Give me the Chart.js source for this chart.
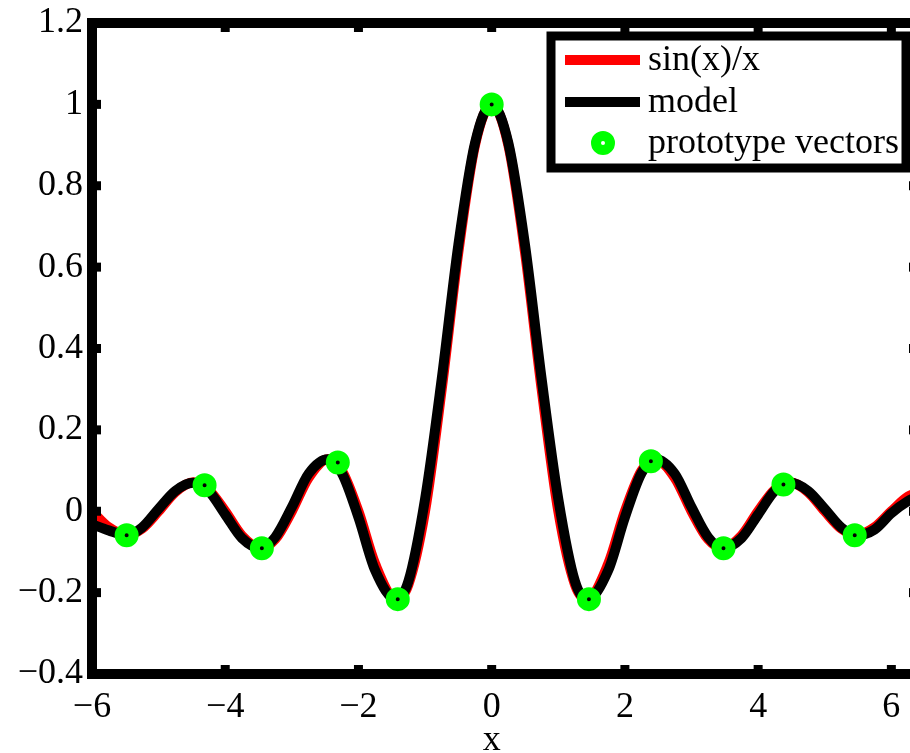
<!DOCTYPE html>
<html>
<head>
<meta charset="utf-8">
<script src="https://cdn.jsdelivr.net/npm/chart.js@4.4.1/dist/chart.umd.min.js"></script>
<style>
  html, body { margin: 0; padding: 0; background: #fff; overflow: hidden; }
  #wrap { width: 940px; height: 753px; }
</style>
</head>
<body>
<div id="wrap"><canvas id="sincChart" width="940" height="753"></canvas></div>
<script>
// sample positions along x (shared by both curves)
const xs = [-6, -5.75, -5.48, -5.25, -5, -4.75, -4.48, -4.25, -4, -3.75, -3.47, -3.25, -3, -2.75, -2.46, -2.25, -2, -1.75, -1.43, -1.25, -1, -0.75, -0.5, -0.25,
            0, 0.25, 0.5, 0.75, 1, 1.25, 1.43, 1.75, 2, 2.25, 2.46, 2.75, 3, 3.25, 3.47, 3.75, 4, 4.25, 4.48, 4.75, 5, 5.25, 5.48, 5.75, 6, 6.25, 6.5];

const sincY = [0, -0.039, -0.058, -0.043, 0, 0.047, 0.071, 0.053, 0, -0.060, -0.091, -0.069, 0, 0.082, 0.128, 0.100, 0, -0.129, -0.217, -0.180, 0, 0.300, 0.637, 0.900,
               1, 0.900, 0.637, 0.300, 0, -0.180, -0.217, -0.129, 0, 0.100, 0.128, 0.082, 0, -0.069, -0.091, -0.060, 0, 0.053, 0.071, 0.047, 0, -0.043, -0.058, -0.039, 0, 0.036, 0.049];

const modelY = [-0.032, -0.047, -0.059, -0.040, 0.006, 0.050, 0.070, 0.050, -0.008, -0.066, -0.091, -0.064, 0.010, 0.092, 0.128, 0.094, -0.015, -0.145, -0.217, -0.172, 0.030, 0.325, 0.655, 0.905,
                1, 0.905, 0.655, 0.325, 0.030, -0.172, -0.217, -0.145, -0.015, 0.094, 0.128, 0.092, 0.010, -0.064, -0.091, -0.066, -0.008, 0.050, 0.070, 0.050, 0.006, -0.040, -0.059, -0.045, -0.005, 0.025, 0.045];

// prototype vectors
const protoX = [-5.48, -4.31, -3.45, -2.31, -1.41, 0, 1.46, 2.39, 3.48, 4.38, 5.45];
const protoY = [-0.059, 0.064, -0.091, 0.120, -0.216, 1.0, -0.216, 0.123, -0.091, 0.066, -0.059];

const xTickValues = [-6, -4, -2, 0, 2, 4, 6];
const yTickValues = [-0.4, -0.2, 0, 0.2, 0.4, 0.6, 0.8, 1, 1.2];

const serif = '"Liberation Serif", "DejaVu Serif", serif';
const fmt = v => String(Math.round(v * 10) / 10).replace('-', '\u2212');

const pts = (xv, yv) => xv.map((x, i) => ({ x: x, y: yv[i] }));

// thick box frame with inward ticks, axis label and a boxed legend in the top-right corner
const framePlugin = {
  id: 'frame',
  afterDatasetsDraw(chart) {
    const { ctx, chartArea: a, scales: { x, y } } = chart;
    ctx.save();
    ctx.strokeStyle = '#000';
    ctx.lineWidth = 10;
    ctx.strokeRect(a.left, a.top, a.right - a.left, a.bottom - a.top);
    ctx.lineWidth = 9;
    ctx.lineCap = 'butt';
    const seg = (x1, y1, x2, y2) => { ctx.beginPath(); ctx.moveTo(x1, y1); ctx.lineTo(x2, y2); ctx.stroke(); };
    x.ticks.forEach(t => {
      const px = x.getPixelForValue(t.value);
      seg(px, a.bottom, px, a.bottom - 9);
      seg(px, a.top, px, a.top + 9);
    });
    y.ticks.forEach(t => {
      const py = y.getPixelForValue(t.value);
      seg(a.left, py, a.left + 9, py);
      seg(a.right, py, a.right - 9, py);
    });
    ctx.fillStyle = '#000';
    ctx.font = '36px ' + serif;
    ctx.textAlign = 'center';
    ctx.textBaseline = 'middle';
    ctx.fillText('x', x.getPixelForValue(0), 741);
    ctx.restore();
  },
  afterDraw(chart) {
    const { ctx } = chart;
    const box = { left: 551, top: 36, right: 906, bottom: 168 };
    ctx.save();
    ctx.fillStyle = '#fff';
    ctx.fillRect(box.left, box.top, box.right - box.left, box.bottom - box.top);
    ctx.strokeStyle = '#000';
    ctx.lineWidth = 9;
    ctx.strokeRect(box.left, box.top, box.right - box.left, box.bottom - box.top);

    const rows = [60, 102, 143];
    ctx.font = '36px ' + serif;
    ctx.textBaseline = 'middle';
    ctx.textAlign = 'left';
    const ds = chart.data.datasets;
    const entries = ['sin(x)/x', 'model', 'prototype vectors'].map(l => ds.find(d => d.label === l));
    entries.forEach((d, i) => {
      const cy = rows[i];
      ctx.strokeStyle = d.borderColor;
      if (d.showLine) {
        ctx.lineWidth = 10;
        ctx.beginPath();
        ctx.moveTo(565, cy);
        ctx.lineTo(640, cy);
        ctx.stroke();
      } else {
        ctx.lineWidth = d.borderWidth;
        ctx.beginPath();
        ctx.arc(603, cy, d.pointRadius, 0, Math.PI * 2);
        ctx.stroke();
      }
      ctx.fillStyle = '#000';
      ctx.fillText(d.label, 648, cy + 1);
    });
    ctx.restore();
  }
};

const ctx = document.getElementById('sincChart').getContext('2d');
new Chart(ctx, {
  type: 'scatter',
  data: {
    datasets: [
      {
        label: 'prototype vectors',
        data: pts(protoX, protoY),
        showLine: false,
        pointStyle: 'circle',
        pointRadius: 7,
        pointHoverRadius: 7,
        borderWidth: 10,
        borderColor: '#00ff00',
        backgroundColor: 'rgba(0,0,0,0)',
        order: 0
      },
      {
        label: 'model',
        data: pts(xs, modelY),
        showLine: true,
        borderColor: '#000',
        borderWidth: 10,
        pointRadius: 0,
        cubicInterpolationMode: 'monotone',
        order: 1
      },
      {
        label: 'sin(x)/x',
        data: pts(xs, sincY),
        showLine: true,
        borderColor: '#ff0000',
        borderWidth: 10,
        pointRadius: 0,
        cubicInterpolationMode: 'monotone',
        order: 2
      }
    ]
  },
  options: {
    responsive: false,
    animation: false,
    layout: { padding: { left: 0, top: 23, right: 22, bottom: 0 } },
    plugins: {
      legend: { display: false },
      tooltip: { enabled: false }
    },
    scales: {
      x: {
        type: 'linear',
        min: -6,
        max: 6.4,
        afterBuildTicks: s => { s.ticks = xTickValues.map(v => ({ value: v })); },
        afterFit: s => { s.height = 79; s.paddingLeft = 0; s.paddingRight = 0; },
        grid: { display: false, drawTicks: false },
        border: { display: false },
        ticks: {
          color: '#000',
          padding: 12,
          font: { family: serif, size: 36 },
          callback: v => fmt(v)
        }
      },
      y: {
        min: -0.4,
        max: 1.2,
        afterBuildTicks: s => { s.ticks = yTickValues.map(v => ({ value: v })); },
        afterFit: s => { s.width = 92; s.paddingTop = 0; s.paddingBottom = 0; },
        grid: { display: false, drawTicks: false },
        border: { display: false },
        ticks: {
          color: '#000',
          padding: 9,
          font: { family: serif, size: 36 },
          callback: v => fmt(v)
        }
      }
    }
  },
  plugins: [framePlugin]
});
</script>
</body>
</html>
